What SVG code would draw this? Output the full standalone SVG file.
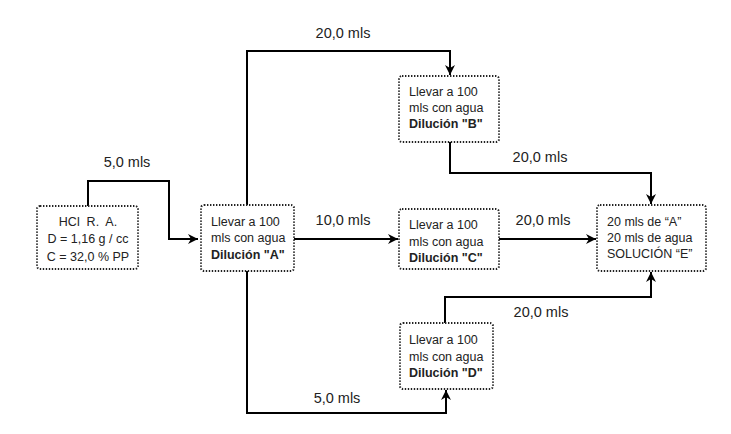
<svg xmlns="http://www.w3.org/2000/svg" width="731" height="434" viewBox="0 0 731 434">
<defs>
<style>
.box{fill:#fff;stroke:#222;stroke-width:2;stroke-dasharray:1.4 1.6}
.t{font-family:"Liberation Sans",Arial,sans-serif;font-size:12.5px;fill:#222}
.b{font-weight:bold}
.c{text-anchor:middle}
.lbl{font-family:"Liberation Sans",Arial,sans-serif;font-size:14.5px;fill:#222;text-anchor:middle}
.ln{fill:none;stroke:#000;stroke-width:2}
</style>
<marker id="ah" viewBox="0 0 12 12" refX="11" refY="6" markerWidth="12" markerHeight="12" markerUnits="userSpaceOnUse" orient="auto">
<path d="M1,1 L11,6 L1,11 L4,6 z" fill="#000"/>
</marker>
</defs>
<rect width="731" height="434" fill="#fff"/>
<g id="connectors">
<path class="ln" d="M88,206 V181 H169 V239 H198" marker-end="url(#ah)"/>
<path class="ln" d="M247,205 V51 H450 V75" marker-end="url(#ah)"/>
<path class="ln" d="M294,239 H398" marker-end="url(#ah)"/>
<path class="ln" d="M247,271 V413 H446 V390" marker-end="url(#ah)"/>
<path class="ln" d="M450,142 V173 H651 V204" marker-end="url(#ah)"/>
<path class="ln" d="M499,239 H596" marker-end="url(#ah)"/>
<path class="ln" d="M445,323 V297 H651 V272" marker-end="url(#ah)"/>
</g>
<g id="labels">
<text class="lbl" x="127" y="167">5,0 mls</text>
<text class="lbl" x="343" y="38">20,0 mls</text>
<text class="lbl" x="343" y="225">10,0 mls</text>
<text class="lbl" x="543" y="225">20,0 mls</text>
<text class="lbl" x="540" y="162">20,0 mls</text>
<text class="lbl" x="541" y="317">20,0 mls</text>
<text class="lbl" x="337" y="403">5,0 mls</text>
</g>
<g id="hcl">
<rect class="box" x="37" y="206" width="101" height="63" rx="3"/>
<text class="t c" x="88" y="226" xml:space="preserve">HCl  R.  A.</text>
<text class="t c" x="88" y="243">D = 1,16 g / cc</text>
<text class="t c" x="88" y="261">C = 32,0 % PP</text>
</g>
<g id="dilA">
<rect class="box" x="201" y="205" width="93" height="66" rx="3"/>
<text class="t" x="211" y="226">Llevar a 100</text>
<text class="t" x="211" y="242">mls con agua</text>
<text class="t b" x="211" y="259">Dilución "A"</text>
</g>
<g id="dilB">
<rect class="box" x="399" y="76" width="100" height="66" rx="3"/>
<text class="t" x="409" y="96">Llevar a 100</text>
<text class="t" x="409" y="112">mls con agua</text>
<text class="t b" x="409" y="128">Dilución "B"</text>
</g>
<g id="dilC">
<rect class="box" x="399" y="209" width="100" height="60" rx="3"/>
<text class="t" x="409" y="229">Llevar a 100</text>
<text class="t" x="409" y="246">mls con agua</text>
<text class="t b" x="409" y="262">Dilución "C"</text>
</g>
<g id="dilD">
<rect class="box" x="400" y="323" width="93" height="66" rx="3"/>
<text class="t" x="409" y="344">Llevar a 100</text>
<text class="t" x="409" y="361">mls con agua</text>
<text class="t b" x="409" y="377">Dilución "D"</text>
</g>
<g id="solE">
<rect class="box" x="597" y="205" width="109" height="66" rx="3"/>
<text class="t" x="607" y="226">20 mls de “A”</text>
<text class="t" x="607" y="242">20 mls de agua</text>
<text class="t" x="607" y="258">SOLUCIÓN “E”</text>
</g>
</svg>
